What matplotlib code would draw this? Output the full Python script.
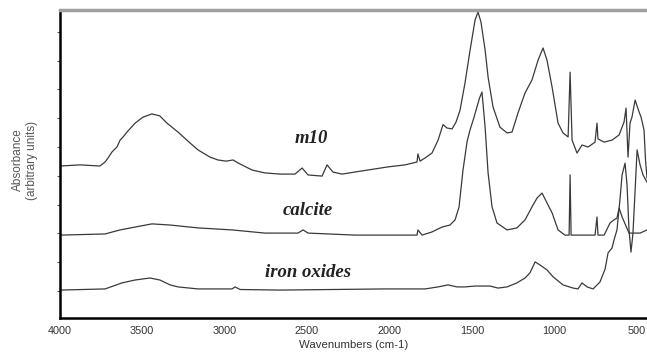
import matplotlib
matplotlib.use('Agg')
import matplotlib.pyplot as plt

# FTIR spectra, wavenumber (cm-1) and absorbance (arbitrary units, traces offset)
M10_WN = [3995, 3876, 3755, 3724, 3706, 3682, 3652, 3633, 3615, 3585, 3542, 3494,
          3440, 3392, 3349, 3282, 3209, 3161, 3088, 3040, 2991, 2949, 2906, 2833,
          2755, 2664, 2573, 2530, 2494, 2409, 2379, 2343, 2288, 2167, 2009, 1906,
          1834, 1828, 1815, 1785, 1743, 1706, 1676, 1652, 1621, 1597, 1573, 1543,
          1512, 1482, 1464, 1446, 1421, 1403, 1373, 1331, 1288, 1258, 1222, 1179,
          1137, 1100, 1070, 1046, 1015, 979, 949, 918, 906, 894, 864, 834, 797,
          755, 743, 737, 700, 652, 609, 579, 567, 555, 543, 531, 512, 488, 476,
          458, 449, 440]
M10_ABS = [4.34, 4.38, 4.34, 4.48, 4.62, 4.83, 5.00, 5.24, 5.35, 5.56, 5.83, 6.04,
           6.15, 6.08, 5.83, 5.52, 5.14, 4.90, 4.65, 4.55, 4.51, 4.55, 4.41, 4.20,
           4.10, 4.06, 4.06, 4.27, 4.03, 3.99, 4.38, 4.13, 4.06, 4.17, 4.31, 4.38,
           4.48, 4.76, 4.51, 4.62, 4.79, 5.24, 5.78, 5.66, 5.63, 5.87, 6.28, 7.22,
           8.37, 9.41, 9.69, 9.34, 8.37, 7.43, 6.39, 5.69, 5.49, 5.52, 6.18, 6.88,
           7.33, 8.02, 8.44, 8.02, 7.08, 5.83, 5.49, 5.35, 7.60, 5.24, 4.79, 5.07,
           5.00, 5.17, 5.83, 5.28, 5.17, 5.24, 5.42, 5.87, 6.35, 4.65, 5.83, 6.04,
           6.63, 6.22, 6.04, 5.59, 4.55, 3.92]

CALCITE_WN = [3995, 3724, 3633, 3542, 3440, 3330, 3161, 2955, 2755, 2555, 2524,
              2494, 2209, 1834, 1828, 1803, 1743, 1682, 1634, 1603, 1579, 1555,
              1530, 1512, 1490, 1470, 1455, 1440, 1421, 1403, 1379, 1349, 1288,
              1228, 1179, 1137, 1106, 1076, 1046, 1015, 979, 937, 912, 906, 900,
              755, 743, 737, 700, 664, 640, 622, 609, 591, 549, 482, 440]
CALCITE_ABS = [1.94, 1.98, 2.12, 2.22, 2.33, 2.29, 2.19, 2.12, 2.01, 2.01, 2.12,
               2.01, 1.94, 1.94, 2.12, 1.94, 2.05, 2.22, 2.29, 2.47, 2.92, 4.20,
               5.20, 5.60, 6.00, 6.40, 6.70, 6.91, 5.69, 4.10, 2.92, 2.36, 2.12,
               2.19, 2.47, 2.92, 3.23, 3.40, 3.06, 2.71, 2.12, 1.94, 1.94, 4.03,
               1.94, 1.94, 2.57, 1.94, 1.94, 2.36, 2.47, 2.53, 2.88, 2.57, 2.01,
               2.01, 2.12]

IRON_WN = [3995, 3724, 3621, 3542, 3452, 3392, 3330, 3282, 3161, 2955, 2936, 2906,
           2664, 2027, 1785, 1706, 1646, 1591, 1543, 1482, 1391, 1343, 1288, 1228,
           1179, 1149, 1118, 1088, 1046, 1009, 949, 888, 858, 834, 803, 767, 725,
           694, 676, 652, 640, 622, 604, 591, 573, 561, 549, 537, 525, 512, 500,
           482, 464, 440]
IRON_ABS = [0.03, 0.07, 0.28, 0.38, 0.45, 0.38, 0.21, 0.14, 0.07, 0.07, 0.14, 0.05,
            0.03, 0.07, 0.07, 0.14, 0.21, 0.14, 0.14, 0.17, 0.17, 0.10, 0.14, 0.28,
            0.45, 0.63, 1.01, 0.90, 0.73, 0.49, 0.21, 0.10, 0.07, 0.28, 0.14, 0.07,
            0.31, 0.76, 1.32, 1.49, 1.77, 2.12, 3.16, 4.03, 4.44, 3.68, 2.12, 1.35,
            2.01, 3.51, 4.90, 4.38, 4.03, 3.78]

XTICKS = [4000, 3500, 3000, 2500, 2000, 1500, 1000, 500]
LABELS = ['m10', 'calcite', 'iron oxides']
LABEL_WN = [2476, 2494, 2494]
LABEL_ABS = [5.28, 2.78, 0.63]

LINE_COLOR = '#3a3a3a'
SANS = ['Liberation Sans Narrow', 'Liberation Sans', 'DejaVu Sans']

fig = plt.figure(figsize=(6.47, 3.54), dpi=100)
ax = fig.add_axes([0.092, 0.1017, 0.908, 0.870])

ax.plot(M10_WN, M10_ABS, color=LINE_COLOR, lw=0.9)
ax.plot(CALCITE_WN, CALCITE_ABS, color=LINE_COLOR, lw=0.9)
ax.plot(IRON_WN, IRON_ABS, color=LINE_COLOR, lw=0.9)

for txt, wx, ay in zip(LABELS, LABEL_WN, LABEL_ABS):
    ax.text(wx, ay, txt, ha='center', va='center', fontsize=13.5,
            family='Liberation Serif', style='italic', weight='bold',
            color='#222222')

ax.set_xlim(4000, 440)
ax.set_ylim(-0.94, 9.76)
ax.set_xticks(XTICKS)
ax.set_xticklabels([str(t) for t in XTICKS], family=SANS, fontsize=7.8,
                   color='#333333')
ax.set_yticks(range(10))
ax.set_yticklabels([])
ax.tick_params(axis='x', length=0, pad=6)
ax.tick_params(axis='y', direction='out', length=2.5, width=0.8, color='#555555')

ax.spines['right'].set_visible(False)
ax.spines['left'].set_linewidth(1.8)
ax.spines['bottom'].set_linewidth(1.8)
ax.spines['top'].set_color('#a0a0a0')
ax.spines['top'].set_linewidth(2.5)

ax.set_xlabel('Wavenumbers (cm-1)', family=SANS, fontsize=8.2, color='#333333',
              labelpad=3)
fig.text(0.039, 0.548, 'Absorbance\n(arbitrary units)', rotation=90,
         ha='center', va='center', multialignment='center',
         family=SANS, fontsize=8.5, color='#555555')

fig.savefig('out.png', dpi=100)
